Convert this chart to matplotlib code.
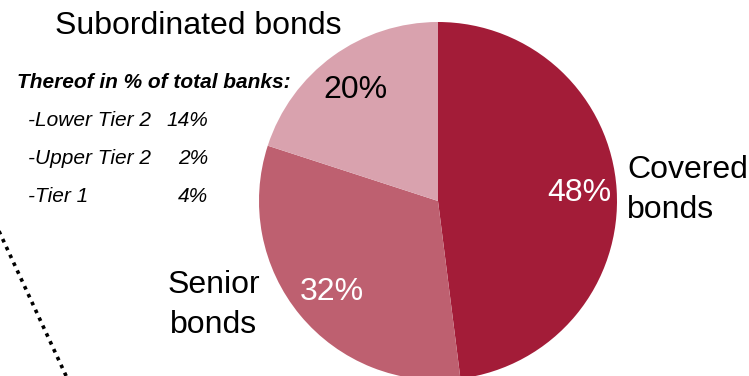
import matplotlib
matplotlib.use("Agg")
from matplotlib import pyplot as plt

plt.rcParams['font.family'] = ['Liberation Sans', 'DejaVu Sans']

# Bond funding structure of banks, share of total
segments = ["Covered\nbonds", "Senior\nbonds", "Subordinated bonds"]
shares = [48, 32, 20]
colors = ["#A31C38", "#BE6070", "#D9A2AE"]
pct_colors = ["white", "white", "black"]

# breakdown of the subordinated part
sub_names = ["-Lower Tier 2", "-Upper Tier 2", "-Tier 1"]
sub_shares = [14, 2, 4]

W, H = 749, 376
fig = plt.figure(figsize=(W / 100, H / 100), dpi=100)
ax = fig.add_axes([0, 0, 1, 1])

cx, cy, r = 438, H - 201, 179
ax.pie(shares, colors=colors, startangle=90, counterclock=False,
       radius=r, center=(cx, cy), frame=True,
       wedgeprops=dict(linewidth=0))
ax.set_xlim(0, W)
ax.set_ylim(0, H)
ax.set_aspect("equal")
ax.axis("off")

fs = 23
pct_pos = [(579, 193), (332, 292), (355, 90)]
for v, (x, y), c in zip(shares, pct_pos, pct_colors):
    ax.text(x, H - y, f"{v}%", color=c, fontsize=fs, ha="center", va="center")

ax.text(627, H - 190, segments[0], fontsize=fs, ha="left", va="center",
        linespacing=1.4)
ax.text(214, H - 305, segments[1], fontsize=fs, ha="center", va="center",
        linespacing=1.4)
ax.text(198, H - 26, segments[2], fontsize=fs, ha="center", va="center")

ax.text(17, H - 82, "Thereof in % of total banks:", fontsize=15,
        fontweight="bold", fontstyle="italic", ha="left", va="center")
for i, (name, v) in enumerate(zip(sub_names, sub_shares)):
    y = H - (120 + 38 * i)
    ax.text(28, y, name, fontsize=15, fontstyle="italic", ha="left", va="center")
    ax.text(208, y, f"{v}%", fontsize=15, fontstyle="italic", ha="right", va="center")

# dotted connector on the left
ax.plot([-2, 68], [H - 229, H - 380], color="black", lw=2.6,
        linestyle=(0, (1, 1.4)), dash_capstyle="butt")

fig.savefig("out.png", dpi=100)
